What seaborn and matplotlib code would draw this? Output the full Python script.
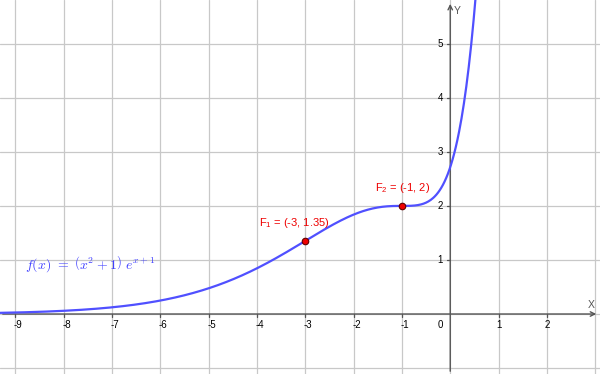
import numpy as np
import pandas as pd
import matplotlib
matplotlib.use('Agg')
import matplotlib.pyplot as plt
import seaborn as sns

# plotted function f(x) = (x^2 + 1) e^(x+1), as labelled in the chart
x_vals = np.linspace(-9.4, 0.6, 600)
curve = pd.DataFrame({'x': x_vals, 'y': (x_vals ** 2 + 1) * np.exp(x_vals + 1)})

# labelled points
pt_names = ['F$\\mathregular{_1}$ = (-3, 1.35)', 'F$\\mathregular{_2}$ = (-1, 2)']
pt_x = [-3, -1]
pt_y = [1.35, 2]
pts = pd.DataFrame({'x': pt_x, 'y': pt_y})

x_ticks = [-9, -8, -7, -6, -5, -4, -3, -2, -1, 1, 2]
y_ticks = [1, 2, 3, 4, 5]

sns.set_style('white')
plt.rcParams['font.family'] = ['Liberation Sans', 'DejaVu Sans']
plt.rcParams['mathtext.fontset'] = 'cm'

fig = plt.figure(figsize=(6, 3.74), dpi=100)
ax = fig.add_axes([0, 0, 1, 1])
xmin, xmax = -9.32, 3.1
ymin, ymax = -1.11, 5.81
ax.set_xlim(xmin, xmax)
ax.set_ylim(ymin, ymax)
for s in ax.spines.values():
    s.set_visible(False)
ax.set_xticks([])
ax.set_yticks([])

# grid
for gx in range(-9, 4):
    ax.axvline(gx, color='#c8c8c8', lw=0.9, zorder=0)
for gy in range(-1, 6):
    ax.axhline(gy, color='#c8c8c8', lw=0.9, zorder=0)

# axes with arrow heads
ax.annotate('', xy=(xmax - 0.02, 0), xytext=(xmin, 0),
            arrowprops=dict(arrowstyle='->', color='#555555', lw=1, mutation_scale=8))
ax.annotate('', xy=(0, ymax - 0.02), xytext=(0, ymin),
            arrowprops=dict(arrowstyle='->', color='#555555', lw=1, mutation_scale=8))
ax.text(xmax - 0.18, 0.07, 'X', fontsize=7.5, color='#555555', ha='center', va='bottom')
ax.text(0.08, ymax - 0.12, 'Y', fontsize=7.5, color='#555555', ha='left', va='top')

# tick marks and labels
for t in x_ticks:
    ax.plot([t, t], [0, -0.06], color='#555555', lw=0.9)
    ax.text(t + (0.06 if t < 0 else 0), -0.12, str(t), fontsize=7, ha='center', va='top', color='black')
for t in y_ticks:
    ax.plot([0, -0.06], [t, t], color='#555555', lw=0.9)
    ax.text(-0.15, t, str(t), fontsize=7, ha='right', va='center', color='black')
ax.text(-0.15, -0.12, '0', fontsize=7, ha='right', va='top', color='black')

# curve and points
sns.lineplot(data=curve, x='x', y='y', ax=ax, color='#5050ff', lw=1.6, zorder=3)
sns.scatterplot(data=pts, x='x', y='y', ax=ax, color='#ee0000', edgecolor='#600000',
                linewidth=0.8, s=22, zorder=4)
ax.set_xlabel('')
ax.set_ylabel('')

ax.text(-3.95, 1.68, pt_names[0], fontsize=8, color='#ee0000', ha='left', va='center')
ax.text(-1.55, 2.33, pt_names[1], fontsize=8, color='#ee0000', ha='left', va='center')

ax.text(-8.8, 0.92, r'$f(x)\ =\ \left(x^2+1\right)\ e^{x+1}$', fontsize=10,
        color='#4040ff', ha='left', va='center')

ax.set_xlim(xmin, xmax)
ax.set_ylim(ymin, ymax)
fig.savefig('out.png', dpi=100)
